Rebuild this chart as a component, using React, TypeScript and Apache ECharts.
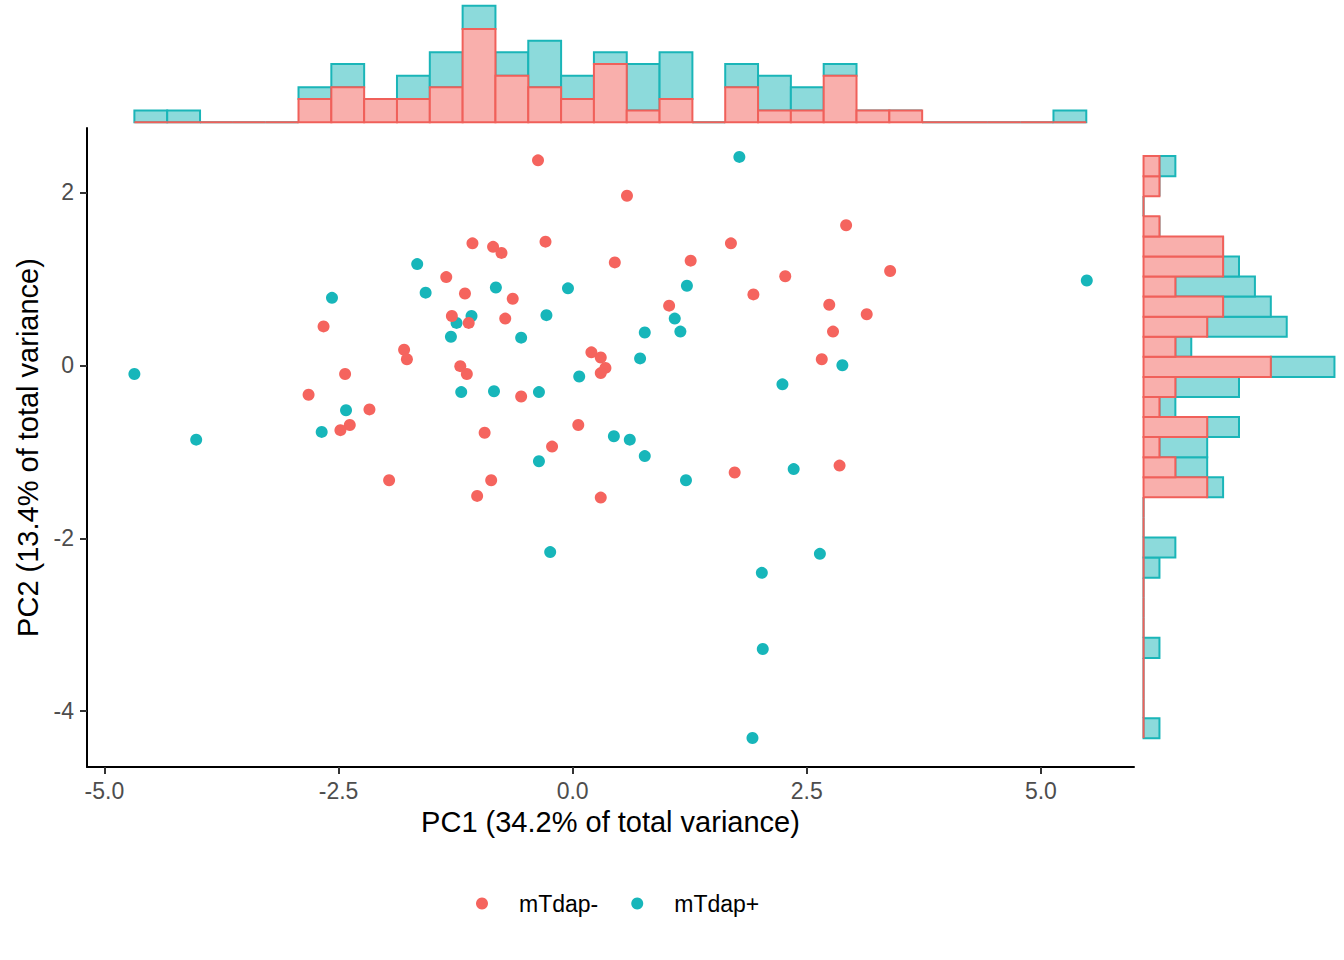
import { useEffect, useRef } from 'react'
import * as echarts from 'echarts'

const FONT = '"Liberation Sans", Arial, Helvetica, sans-serif'
const RED = '#F5645E'
const TEAL = '#17B6BA'
const RED_FILL = '#F9AFAC'
const TEAL_FILL = '#8CDADB'
const RED_EDGE = '#F0605A'
const TEAL_EDGE = '#1AB5B8'

// PCA scores, [PC1, PC2]
const mTdapMinus: [number, number][] = [
  [-2.66, 0.45], [-1.8, 0.18], [-1.77, 0.07], [-2.43, -0.1], [-2.82, -0.34],
  [-2.17, -0.51], [-2.38, -0.69], [-2.48, -0.75], [-0.37, 2.37], [0.58, 1.96],
  [-1.07, 1.41], [-0.85, 1.37], [-0.76, 1.3], [-0.29, 1.43], [0.45, 1.19],
  [1.69, 1.41], [1.26, 1.21], [2.27, 1.03], [-1.35, 1.02], [-1.15, 0.83],
  [1.93, 0.82], [-0.64, 0.77], [1.03, 0.69], [-1.29, 0.57], [-1.11, 0.49],
  [-0.72, 0.54], [0.2, 0.15], [0.3, 0.09], [0.35, -0.03], [0.3, -0.09],
  [-1.2, -0.01], [-1.13, -0.1], [-0.55, -0.36], [-0.94, -0.78], [0.06, -0.69],
  [-0.22, -0.94], [2.92, 1.62], [3.39, 1.09], [2.74, 0.7], [3.14, 0.59],
  [2.78, 0.39], [2.66, 0.07], [-1.96, -1.33], [-0.87, -1.33], [-1.02, -1.51],
  [0.3, -1.53], [1.73, -1.24], [2.85, -1.16]
]

const mTdapPlus: [number, number][] = [
  [-4.68, -0.1], [-4.02, -0.86], [-2.57, 0.78], [-1.66, 1.17], [-1.57, 0.84],
  [-2.42, -0.52], [-2.68, -0.77], [1.78, 2.41], [-0.82, 0.9], [-0.05, 0.89],
  [1.22, 0.92], [1.09, 0.54], [1.15, 0.39], [-1.08, 0.57], [-1.24, 0.49],
  [-0.28, 0.58], [-1.3, 0.33], [-0.55, 0.32], [0.77, 0.38], [0.72, 0.08],
  [0.07, -0.13], [2.24, -0.22], [-1.19, -0.31], [-0.84, -0.3], [-0.36, -0.31],
  [0.44, -0.82], [0.61, -0.86], [0.77, -1.05], [-0.36, -1.11], [5.49, 0.98],
  [2.88, 0.0], [1.21, -1.33], [2.36, -1.2], [-0.24, -2.16], [2.02, -2.4],
  [2.03, -3.28], [1.92, -4.31], [2.64, -2.18]
]

// marginal histogram of PC1 (29 bins, left to right)
const X_BIN_START = -4.68
const X_BIN_WIDTH = 0.3505
const pc1CountsMinus = [0, 0, 0, 0, 0, 2, 3, 2, 2, 3, 8, 4, 3, 2, 5, 1, 2, 0, 3, 1, 1, 4, 1, 1, 0, 0, 0, 0, 0]
const pc1CountsPlus = [1, 1, 0, 0, 0, 1, 2, 0, 2, 3, 2, 2, 4, 2, 1, 4, 4, 0, 2, 3, 2, 1, 0, 0, 0, 0, 0, 0, 1]

// marginal histogram of PC2 (29 bins, bottom to top)
const Y_BIN_START = -4.312
const Y_BIN_WIDTH = 0.2321
const pc2CountsMinus = [0, 0, 0, 0, 0, 0, 0, 0, 0, 0, 0, 0, 4, 2, 1, 4, 1, 2, 8, 2, 4, 5, 2, 5, 5, 1, 0, 1, 1]
const pc2CountsPlus = [1, 0, 0, 0, 1, 0, 0, 0, 1, 2, 0, 0, 1, 2, 3, 2, 1, 4, 4, 1, 5, 3, 5, 1, 0, 0, 0, 0, 1]

const xTicks = [-5, -2.5, 0, 2.5, 5]
const yTicks = [-4, -2, 0, 2]

const X_MIN = -5.186
const X_MAX = 5.994
const Y_MIN = -4.645
const Y_MAX = 2.744

const histItem = (fill: string, stroke: string) => (_params: unknown, api: any) => {
  const a = api.coord([api.value(0), api.value(2)])
  const b = api.coord([api.value(1), api.value(3)])
  const x = Math.min(a[0], b[0])
  const y = Math.min(a[1], b[1])
  const w = Math.abs(b[0] - a[0])
  const h = Math.abs(b[1] - a[1])
  if (w < 0.5 || h < 0.5) {
    return {
      type: 'line',
      shape: { x1: x, y1: y, x2: x + w, y2: y + h },
      style: { stroke, lineWidth: 2 }
    }
  }
  return {
    type: 'rect',
    shape: { x, y, width: w, height: h },
    style: { fill, stroke, lineWidth: 2 }
  }
}

export default function App() {
  const ref = useRef<HTMLDivElement | null>(null)

  useEffect(() => {
    if (!ref.current) return
    const chart = echarts.init(ref.current, undefined, { renderer: 'svg' })

    const topPlus = pc1CountsPlus.map((t, i) => {
      const x0 = X_BIN_START + i * X_BIN_WIDTH
      const r = pc1CountsMinus[i]
      return [x0, x0 + X_BIN_WIDTH, r, r + t]
    })
    const topMinus = pc1CountsMinus.map((r, i) => {
      const x0 = X_BIN_START + i * X_BIN_WIDTH
      return [x0, x0 + X_BIN_WIDTH, 0, r]
    })
    const sidePlus = pc2CountsPlus.map((t, i) => {
      const y0 = Y_BIN_START + i * Y_BIN_WIDTH
      const r = pc2CountsMinus[i]
      return [r, r + t, y0, y0 + Y_BIN_WIDTH]
    })
    const sideMinus = pc2CountsMinus.map((r, i) => {
      const y0 = Y_BIN_START + i * Y_BIN_WIDTH
      return [0, r, y0, y0 + Y_BIN_WIDTH]
    })

    const hidden = {
      axisLine: { show: false },
      axisTick: { show: false },
      axisLabel: { show: false },
      splitLine: { show: false }
    }

    chart.setOption({
      animation: false,
      backgroundColor: '#fff',
      textStyle: { fontFamily: FONT },
      grid: [
        { left: 87, top: 128, width: 1047, height: 639 },
        { left: 87, top: 0, width: 1047, height: 128 },
        { left: 1134, top: 128, width: 210, height: 639 }
      ],
      xAxis: [
        {
          type: 'value',
          gridIndex: 0,
          min: X_MIN,
          max: X_MAX,
          axisLine: { show: true, onZero: false, lineStyle: { color: '#000', width: 2 } },
          axisTick: {
            show: true,
            customValues: xTicks,
            length: 7,
            lineStyle: { color: '#333', width: 2 }
          },
          axisLabel: {
            customValues: xTicks,
            formatter: (v: number) => v.toFixed(1),
            color: '#4D4D4D',
            fontSize: 23,
            fontFamily: FONT,
            margin: 12
          },
          splitLine: { show: false },
          name: 'PC1 (34.2% of total variance)',
          nameLocation: 'middle',
          nameGap: 40,
          nameTextStyle: { fontSize: 29, color: '#000', fontFamily: FONT }
        },
        { type: 'value', gridIndex: 1, min: X_MIN, max: X_MAX, ...hidden },
        { type: 'value', gridIndex: 2, min: -0.6, max: 12.6, ...hidden }
      ],
      yAxis: [
        {
          type: 'value',
          gridIndex: 0,
          min: Y_MIN,
          max: Y_MAX,
          axisLine: { show: true, onZero: false, lineStyle: { color: '#000', width: 2 } },
          axisTick: {
            show: true,
            customValues: yTicks,
            length: 7,
            lineStyle: { color: '#333', width: 2 }
          },
          axisLabel: {
            customValues: yTicks,
            formatter: (v: number) => String(v),
            color: '#4D4D4D',
            fontSize: 23,
            fontFamily: FONT,
            margin: 13
          },
          splitLine: { show: false },
          name: 'PC2 (13.4% of total variance)',
          nameLocation: 'middle',
          nameGap: 44,
          nameTextStyle: { fontSize: 29, color: '#000', fontFamily: FONT }
        },
        { type: 'value', gridIndex: 1, min: -0.5, max: 10.5, ...hidden },
        { type: 'value', gridIndex: 2, min: Y_MIN, max: Y_MAX, ...hidden }
      ],
      legend: {
        data: ['mTdap-', 'mTdap+'],
        left: 476,
        top: 892,
        padding: 0,
        icon: 'circle',
        itemWidth: 12,
        itemHeight: 12,
        itemGap: 33,
        textStyle: {
          fontSize: 23,
          color: '#000',
          fontFamily: FONT,
          padding: [0, 0, 0, 26]
        }
      },
      series: [
        {
          type: 'custom',
          xAxisIndex: 1,
          yAxisIndex: 1,
          renderItem: histItem(TEAL_FILL, TEAL_EDGE),
          encode: { x: [0, 1], y: [2, 3] },
          data: topPlus
        },
        {
          type: 'custom',
          xAxisIndex: 1,
          yAxisIndex: 1,
          renderItem: histItem(RED_FILL, RED_EDGE),
          encode: { x: [0, 1], y: [2, 3] },
          data: topMinus
        },
        {
          type: 'custom',
          xAxisIndex: 2,
          yAxisIndex: 2,
          renderItem: histItem(TEAL_FILL, TEAL_EDGE),
          encode: { x: [0, 1], y: [2, 3] },
          data: sidePlus
        },
        {
          type: 'custom',
          xAxisIndex: 2,
          yAxisIndex: 2,
          renderItem: histItem(RED_FILL, RED_EDGE),
          encode: { x: [0, 1], y: [2, 3] },
          data: sideMinus
        },
        {
          name: 'mTdap+',
          type: 'scatter',
          xAxisIndex: 0,
          yAxisIndex: 0,
          symbolSize: 12,
          itemStyle: { color: TEAL, opacity: 1 },
          data: mTdapPlus
        },
        {
          name: 'mTdap-',
          type: 'scatter',
          xAxisIndex: 0,
          yAxisIndex: 0,
          symbolSize: 12,
          itemStyle: { color: RED, opacity: 1 },
          data: mTdapMinus
        }
      ]
    })

    return () => chart.dispose()
  }, [])

  return (
    <div
      ref={ref}
      style={{ position: 'absolute', left: 0, top: 0, width: 1344, height: 960 }}
    />
  )
}
